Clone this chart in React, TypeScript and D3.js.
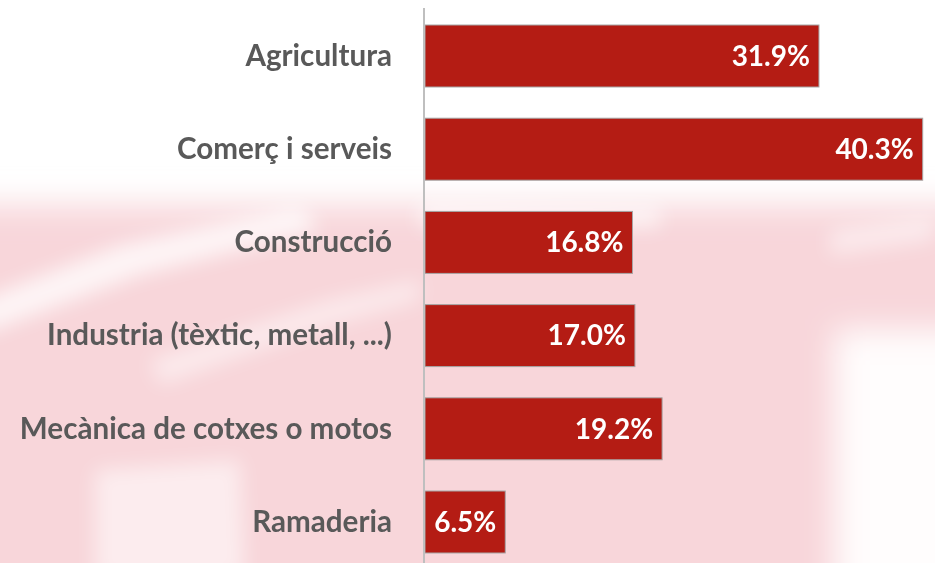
import React from "react";
import * as d3 from "d3";

const categories = [
  "Agricultura",
  "Comerç i serveis",
  "Construcció",
  "Industria (tèxtic, metall, ...)",
  "Mecànica de cotxes o motos",
  "Ramaderia",
];
const values = [31.9, 40.3, 16.8, 17.0, 19.2, 6.5];

const W = 935;
const H = 563;

export default function App() {
  const x = d3.scaleLinear().domain([0, 42]).range([425, 425 + 42 * 12.35]);
  const y = d3
    .scaleBand<string>()
    .domain(categories)
    .range([9.4, 9.4 + 6 * 93.2])
    .paddingInner(0.335)
    .paddingOuter(0.335 / 2);

  const font = "Lato, 'Open Sans', sans-serif";

  return (
    <svg
      width={W}
      height={H}
      style={{ position: "absolute", left: 0, top: 0, display: "block" }}
    >
      <defs>
        <filter id="blur" x="-50%" y="-50%" width="200%" height="200%">
          <feGaussianBlur stdDeviation="16" />
        </filter>
        <filter id="blur2" x="-50%" y="-50%" width="200%" height="200%">
          <feGaussianBlur stdDeviation="10" />
        </filter>
      </defs>
      <rect x={0} y={0} width={W} height={H} fill="#ffffff" />
      <g filter="url(#blur)">
        <rect x={-60} y={205} width={1060} height={420} fill="#f8d6da" />
        <rect x={835} y={330} width={200} height={300} fill="#ffffff" opacity={0.95} />
      </g>
      <g filter="url(#blur2)" fill="#ffffff">
        <path d="M -20 300 L 120 245 L 300 205 L 320 230 L 140 275 L -20 335 Z" opacity={0.75} />
        <path d="M 420 200 L 660 205 L 660 228 L 420 228 Z" opacity={0.6} />
        <path d="M 95 470 L 240 460 L 245 580 L 95 580 Z" opacity={0.55} />
        <path d="M 150 360 L 330 300 L 420 280 L 420 300 L 330 325 L 160 385 Z" opacity={0.5} />
        <path d="M 830 230 L 935 215 L 935 240 L 830 255 Z" opacity={0.5} />
      </g>
      {categories.map((c, i) => {
        const y0 = y(c)!;
        const bw = y.bandwidth();
        return (
          <g key={c}>
            <rect
              x={x(0)}
              y={y0}
              width={x(values[i]) - x(0)}
              height={bw}
              fill="#b41c14"
              stroke="#a6a6a6"
              strokeWidth={1}
            />
            <text
              x={x(values[i]) - 9}
              y={y0 + bw / 2}
              dy="0.35em"
              textAnchor="end"
              fill="#ffffff"
              fontFamily={font}
              fontWeight={700}
              fontSize={28}
            >
              {values[i].toFixed(1) + "%"}
            </text>
            <text
              x={392}
              y={y0 + bw / 2}
              dy="0.33em"
              textAnchor="end"
              fill="#595959"
              fontFamily={font}
              fontWeight={700}
              fontSize={29.6}
            >
              {c}
            </text>
          </g>
        );
      })}
      <line x1={424} x2={424} y1={8} y2={H} stroke="#bfbfbf" strokeWidth={2} />
    </svg>
  );
}
